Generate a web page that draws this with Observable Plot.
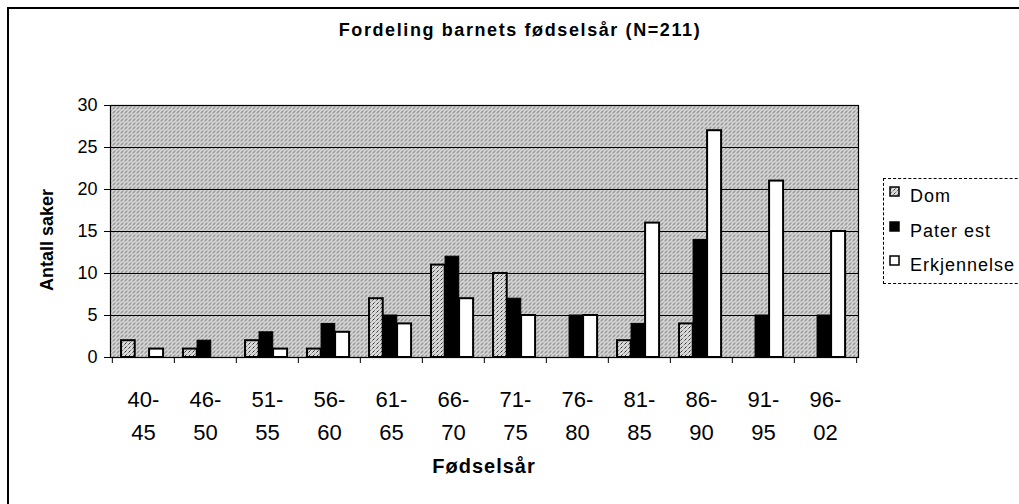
<!DOCTYPE html>
<html>
<head>
<meta charset="utf-8">
<script src="https://cdn.jsdelivr.net/npm/d3@7"></script>
<script src="https://cdn.jsdelivr.net/npm/@observablehq/plot@0.6"></script>
<style>
  body { margin: 0; background: #fff; color: #000; }
  #wrap { position: relative; width: 1019px; height: 504px; overflow: hidden;
          font-family: "Liberation Sans", Arial, sans-serif; color: #000; }
  #wrap svg { position: absolute; left: 0; top: 0; }
  #frameTop { position: absolute; left: 7px; top: 7px; width: 1100px; height: 0; border-top: 2px solid #000; }
  #frameLeft { position: absolute; left: 7px; top: 7px; width: 0; height: 600px; border-left: 2px solid #000; }
  .lbl { position: absolute; white-space: nowrap; font-weight: bold; line-height: 20px; }
  #title { left: 520px; top: 20px; font-size: 18px; letter-spacing: 1.6px; transform: translateX(-50%); }
  #ylabel { left: 47px; top: 240px; font-size: 18px; transform: translate(-50%, -50%) rotate(-90deg); }
  #xlabel { left: 484px; top: 456px; font-size: 20px; letter-spacing: 1px; transform: translateX(-50%); }
  #legendBox { position: absolute; left: 883px; top: 178px; width: 160px; height: 106px;
               border: 1.5px dashed #000; box-sizing: border-box; }
  .item { position: absolute; left: 889px; font-size: 18px; letter-spacing: 1px; line-height: 20px; white-space: nowrap; }
  .item svg { position: absolute !important; left: 0; top: 8px; }
  .item span { position: absolute; left: 21px; top: 0; }
</style>
</head>
<body>
<div id="wrap">
  <div id="plot"></div>
  <div id="frameTop"></div>
  <div id="frameLeft"></div>
  <div id="title" class="lbl">Fordeling barnets fødselsår (N=211)</div>
  <div id="ylabel" class="lbl">Antall saker</div>
  <div id="xlabel" class="lbl">Fødselsår</div>
  <div id="legendBox"></div>
  <div id="legend"></div>
</div>
<script>
// ---- data ----
const categories = ["40-45","46-50","51-55","56-60","61-65","66-70","71-75","76-80","81-85","86-90","91-95","96-02"];
const tickLabels = ["40-\n45","46-\n50","51-\n55","56-\n60","61-\n65","66-\n70","71-\n75","76-\n80","81-\n85","86-\n90","91-\n95","96-\n02"];
const seriesNames = ["Dom", "Pater est", "Erkjennelse"];
const domValues = [2, 1, 2, 1, 7, 11, 10, 0, 2, 4, 0, 0];
const paterValues = [0, 2, 3, 4, 5, 12, 7, 5, 4, 14, 5, 5];
const erkValues = [1, 0, 1, 3, 4, 7, 5, 5, 16, 27, 21, 15];
const yTicks = [0, 5, 10, 15, 20, 25, 30];
const gridValues = [5, 10, 15, 20, 25, 30];

// ---- layout / style ----
const W = 1019, H = 504;
const mL = 110, mR = 161, mT = 105, mB = 147;
const band = (W - mL - mR) / categories.length;
const slots = [0.145, 0.37, 0.595, 0.825]; // fractions of a category slot occupied by the 3 bars
const seriesStyle = [
  {fill: "url(#stip)", stroke: "#000", strokeWidth: 2},
  {fill: "#000", stroke: "#000", strokeWidth: 1},
  {fill: "#fff", stroke: "#000", strokeWidth: 2}
];
const seriesValues = [domValues, paterValues, erkValues];

const rows = seriesNames.map((s, si) =>
  categories.map((c, i) => ({cat: c, series: s, value: seriesValues[si][i]}))
);

const barMarks = rows.map((data, si) =>
  Plot.barY(data, {
    filter: d => d.value > 0,
    x: "cat",
    y: "value",
    insetLeft: slots[si] * band,
    insetRight: (1 - slots[si + 1]) * band,
    ...seriesStyle[si]
  })
);

const chart = Plot.plot({
  width: W,
  height: H,
  marginLeft: mL, marginRight: mR, marginTop: mT, marginBottom: mB,
  style: {fontFamily: "'Liberation Sans', Arial, sans-serif", color: "#000", background: "transparent"},
  x: {type: "band", domain: categories, padding: 0, axis: null},
  y: {domain: [0, 30], axis: null},
  marks: [
    Plot.frame({fill: "url(#stip)"}),
    Plot.ruleY(gridValues, {stroke: "#000", strokeWidth: 1}),
    ...barMarks,
    Plot.frame({stroke: "#000", strokeWidth: 1.2}),
    Plot.ruleX(categories, {x: d => d, y1: 0, y2: 0, insetBottom: -6, dx: -band / 2, stroke: "#000"}),
    Plot.ruleX([categories[categories.length - 1]], {x: d => d, y1: 0, y2: 0, insetBottom: -6, dx: band / 2, stroke: "#000"}),
    Plot.axisY({ticks: yTicks, tickSize: 6, tickPadding: 7, label: null, fontSize: 18, tickFormat: d => String(d)}),
    Plot.text(categories, {
      x: d => d,
      frameAnchor: "bottom",
      text: (d, i) => tickLabels[i],
      lineAnchor: "top",
      lineHeight: 1.5,
      dy: 26,
      fontSize: 22,
      fill: "#000"
    })
  ]
});

// stipple pattern (styling only)
const defs = d3.select(chart).insert("defs", ":first-child");
const pat = defs.append("pattern").attr("id", "stip").attr("patternUnits", "userSpaceOnUse")
  .attr("width", 4).attr("height", 4);
pat.append("rect").attr("width", 4).attr("height", 4).attr("fill", "#d9d9d9");
[[0,0,"#7a7a7a"],[2,2,"#7a7a7a"],[1,3,"#333"],[3,1,"#b0b0b0"]].forEach(([px, py, c]) =>
  pat.append("rect").attr("x", px).attr("y", py).attr("width", 1).attr("height", 1).attr("fill", c));

document.getElementById("plot").appendChild(chart);

// legend
const legendBaselines = [203, 237.5, 272];
const legend = document.getElementById("legend");
seriesNames.forEach((name, i) => {
  const div = document.createElement("div");
  div.className = "item";
  div.style.top = (legendBaselines[i] - 17) + "px";
  const st = seriesStyle[i];
  div.innerHTML = `<svg width="11" height="11"><rect x="1" y="1" width="9" height="9" fill="${st.fill}" stroke="#000" stroke-width="1.5"/></svg><span>${name}</span>`;
  legend.appendChild(div);
});
</script>
</body>
</html>
